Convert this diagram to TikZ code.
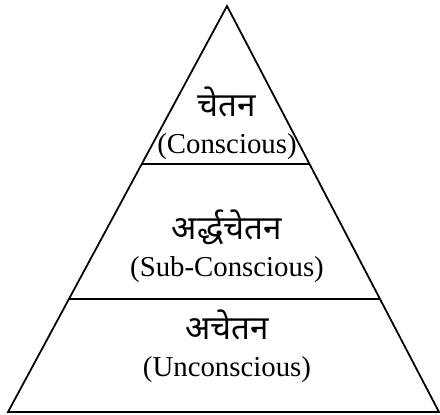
\documentclass[tikz,border=0pt]{standalone}
\usepackage{fontspec}
\setmainfont{Liberation Serif}
\newfontfamily\hindi[Script=Devanagari,Scale=1.15]{Noto Sans}
\usetikzlibrary{positioning,calc}

\begin{document}
\begin{tikzpicture}[
    x=0.02cm, y=-0.02cm,
    layer/.style={align=center, font=\fontsize{16.4}{21}\selectfont},
    edge/.style={line width=1pt}
]
\useasboundingbox (0,0) rectangle (440,415);
\coordinate (apex) at (227,6);
\coordinate (bl) at (8,412);
\coordinate (br) at (439,412);
\coordinate (l1) at ($(apex)!0.389!(bl)$);
\coordinate (r1) at ($(apex)!0.389!(br)$);
\coordinate (l2) at ($(apex)!0.722!(bl)$);
\coordinate (r2) at ($(apex)!0.722!(br)$);

\draw[edge] (apex) -- (bl) -- (br) -- cycle;
\draw[edge] (l1) -- (r1);
\draw[edge] (l2) -- (r2);

\node[layer] (conscious) at (227,123) {{\hindi चेतन}\\(Conscious)};
\node[layer] (subconscious) at (227,246) {{\hindi अर्द्धचेतन}\\(Sub-Conscious)};
\node[layer] (unconscious) at (227,346) {{\hindi अचेतन}\\(Unconscious)};
\end{tikzpicture}
\end{document}
